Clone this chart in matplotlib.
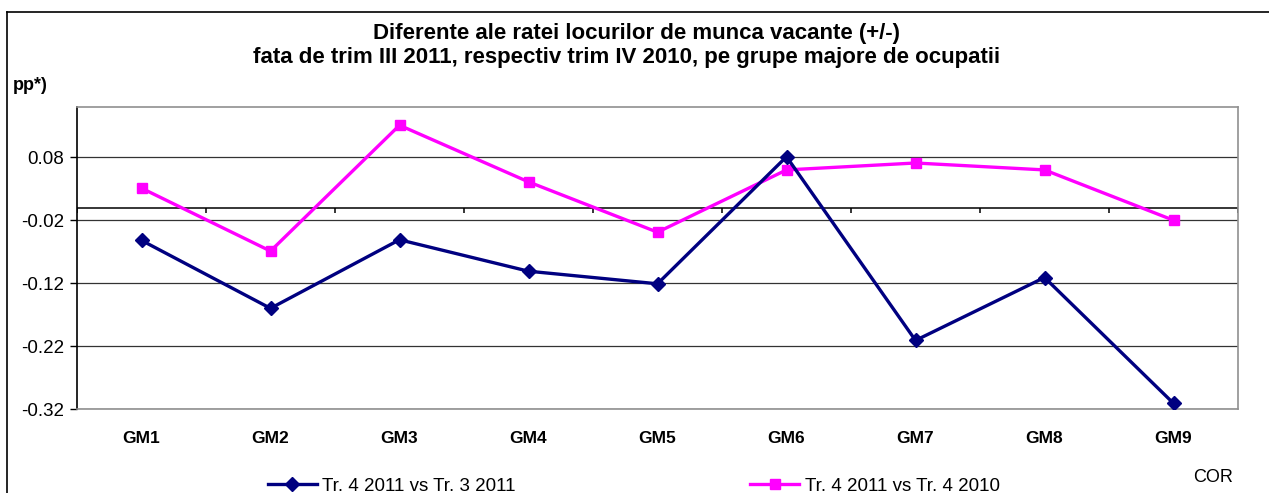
import matplotlib
matplotlib.use('Agg')
import matplotlib.pyplot as plt
from matplotlib.lines import Line2D

plt.rcParams['font.family'] = ['Liberation Sans', 'DejaVu Sans']

categories = ['GM1', 'GM2', 'GM3', 'GM4', 'GM5', 'GM6', 'GM7', 'GM8', 'GM9']
vs_tr3_2011 = [-0.052, -0.160, -0.051, -0.101, -0.121, 0.081, -0.211, -0.111, -0.311]
vs_tr4_2010 = [0.031, -0.069, 0.131, 0.041, -0.039, 0.060, 0.071, 0.060, -0.020]
ytick_vals = [-0.32, -0.22, -0.12, -0.02, 0.08]
ytick_labels = ['-0.32', '-0.22', '-0.12', '-0.02', '0.08']

fig = plt.figure(figsize=(12.69, 4.93), dpi=100)
ax = fig.add_axes([77 / 1269, 1 - 409 / 493, (1238 - 77) / 1269, (409 - 107) / 493])

x = list(range(len(categories)))
ax.plot(x, vs_tr3_2011, color='#000080', lw=2.4, marker='D', ms=7,
        label='Tr. 4 2011 vs Tr. 3 2011', zorder=4)
ax.plot(x, vs_tr4_2010, color='#FF00FF', lw=2.4, marker='s', ms=7.5,
        label='Tr. 4 2011 vs Tr. 4 2010', zorder=3)

ax.set_xlim(-0.5, len(categories) - 0.5)
ax.set_ylim(-0.32, 0.16)
ax.set_yticks(ytick_vals)
ax.set_yticklabels(ytick_labels, fontsize=13.5)
ax.yaxis.grid(True, color='#333333', lw=0.9)
ax.set_axisbelow(True)
ax.tick_params(axis='y', direction='out', length=5, width=1, pad=4)

ax.set_xticks(x)
ax.set_xticklabels(categories, fontsize=12.5, fontweight='bold')
ax.tick_params(axis='x', length=0, pad=16)

# category axis crossing at zero, with ticks between categories
ax.axhline(0, color='black', lw=1.1, zorder=2)
bounds = [i - 0.5 for i in range(len(categories) + 1)]
ax.vlines(bounds, -0.008, 0, color='black', lw=1.1, zorder=2)

for side in ['top', 'right', 'bottom']:
    ax.spines[side].set_color('#909090')
    ax.spines[side].set_linewidth(1.2)
ax.spines['left'].set_color('black')
ax.spines['left'].set_linewidth(1.2)

# outer chart border (left + top)
fig.add_artist(Line2D([7 / 1269, 7 / 1269], [0, 1 - 12 / 493], color='black', lw=1.2))
fig.add_artist(Line2D([7 / 1269, 1], [1 - 12 / 493, 1 - 12 / 493], color='black', lw=1.2))

fig.text(637 / 1269, 1 - 34 / 493, 'Diferente ale ratei locurilor de munca vacante (+/-)',
         ha='center', va='center', fontsize=16, fontweight='bold')
fig.text(627 / 1269, 1 - 58 / 493, 'fata de trim III 2011, respectiv trim IV 2010, pe grupe majore de ocupatii',
         ha='center', va='center', fontsize=16, fontweight='bold')
fig.text(13 / 1269, 1 - 86 / 493, 'pp*)', ha='left', va='center', fontsize=13, fontweight='bold')
fig.text(1213 / 1269, 1 - 478 / 493, 'COR', ha='center', va='center', fontsize=13)

h, l = ax.get_legend_handles_labels()
fig.legend(h, l, ncol=2, loc='center left', bbox_to_anchor=(268 / 1269, 1 - 486 / 493),
           frameon=False, fontsize=13.5, handlelength=2.6, columnspacing=12.5,
           handletextpad=0.3, borderpad=0, borderaxespad=0)

fig.savefig('out.png', dpi=100)
